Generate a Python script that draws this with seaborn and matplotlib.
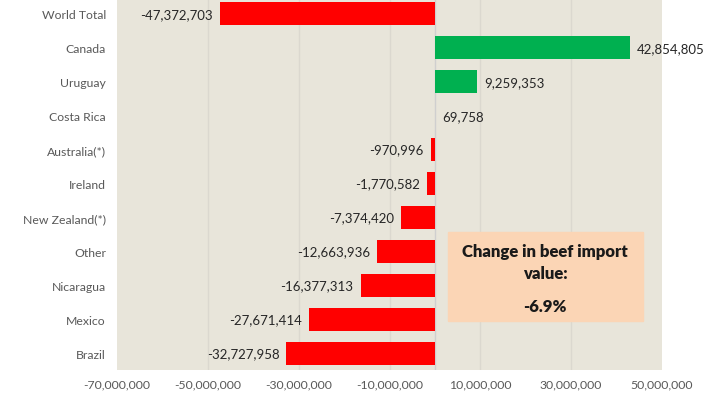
import matplotlib
matplotlib.use("Agg")
import matplotlib.pyplot as plt
import seaborn as sns

countries = ['World Total', 'Canada', 'Uruguay', 'Costa Rica', 'Australia(*)', 'Ireland',
             'New Zealand(*)', 'Other', 'Nicaragua', 'Mexico', 'Brazil']
change = [-47372703, 42854805, 9259353, 69758, -970996, -1770582,
          -7374420, -12663936, -16377313, -27671414, -32727958]
xticks = [-70000000, -50000000, -30000000, -10000000, 10000000, 30000000, 50000000]
box_lines = ['Change in beef import', 'value:', '-6.9%']

red = '#FF0000'
green = '#00B050'
bg = '#E8E5DA'
font = 'Lato'

sns.set_style('white')
plt.rcParams['font.family'] = [font, 'DejaVu Sans']

fig = plt.figure(figsize=(7.15, 4.02), dpi=100)
ax = fig.add_axes([117 / 715, 31 / 402, 545 / 715, 371 / 402])
ax.set_facecolor(bg)

colors = [green if v >= 0 else red for v in change]
sns.barplot(x=change, y=countries, hue=countries, palette=colors, orient='h',
            width=0.68, legend=False, ax=ax, linewidth=0, saturation=1, zorder=3)

for cont, v in zip(ax.containers, change):
    ax.bar_label(cont, labels=[f'{v:,}'], padding=5, fontsize=9.5, color='#262626')

ax.set_xlim(-70000000, 50000000)
ax.set_ylim(10.5, -0.44)
ax.set_xticks(xticks)
ax.set_xticklabels([f'{t:,}' for t in xticks])
for t in xticks[1:-1]:
    ax.axvline(t, color='#DBD8CF', lw=1, zorder=1)
ax.axvline(0, color='#CFCFCF', lw=1, zorder=2)

ax.tick_params(axis='x', labelsize=8.8, labelcolor='#595959', length=0, pad=6)
ax.tick_params(axis='y', labelsize=8.8, labelcolor='#595959', length=0, pad=8)
ax.set_xlabel('')
ax.set_ylabel('')
for s in ax.spines.values():
    s.set_visible(False)

# annotation box
fig.patches.append(plt.Rectangle((448 / 715, 1 - 322 / 402), 195 / 715, 89 / 402,
                                 transform=fig.transFigure, color='#FBD5B5', zorder=5))
for txt, yp in zip(box_lines, [252, 274, 307]):
    fig.text(545 / 715, 1 - yp / 402, txt, ha='center', va='center', fontsize=12,
             fontweight='heavy', color='#1A1A1A', zorder=6)

plt.savefig('out.png', dpi=100)
